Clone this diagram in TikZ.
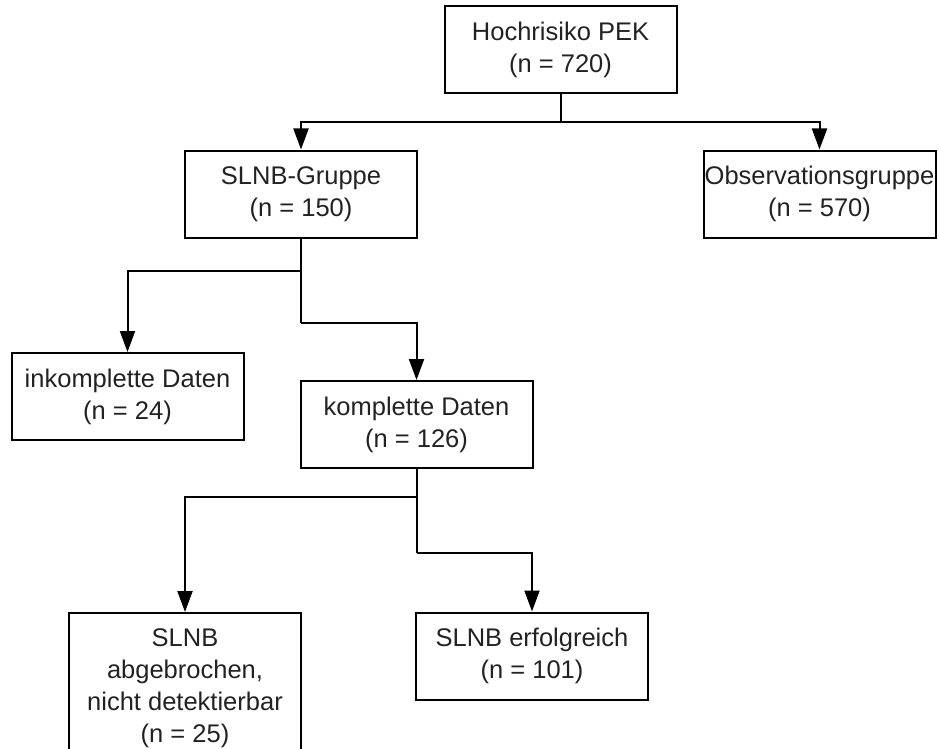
\documentclass[tikz,border=0pt]{standalone}
\usepackage{fontspec}
\setmainfont{Liberation Sans}
\usetikzlibrary{arrows.meta}
\definecolor{txt}{HTML}{222222}
\begin{document}
\begin{tikzpicture}[x=1pt,y=-1pt,
  box/.style={draw=black,line width=2pt,rectangle,inner sep=0pt,minimum width=232pt,minimum height=87pt,align=center,text=txt,font=\fontsize{25.5}{32}\selectfont},
  conn/.style={draw=black,line width=2pt},
  arr/.style={conn,-{Triangle[width=15pt,length=21pt]}}]
\useasboundingbox (0,0) rectangle (939,749);
\node[box] (A) at (560.5,49.5) {Hochrisiko PEK\\(n = 720)};
\node[box] (B) at (301,194) {SLNB-Gruppe\\(n = 150)};
\node[box] (C) at (819.5,194) {Observationsgruppe\\(n = 570)};
\node[box] (D) at (127.5,396.5) {inkomplette Daten\\(n = 24)};
\node[box] (E) at (416.5,424.5) {komplette Daten\\(n = 126)};
\node[box,minimum height=150pt] (F) at (185,688) {SLNB\\abgebrochen,\\nicht detektierbar\\(n = 25)};
\node[box] (G) at (532,656) {SLNB erfolgreich\\(n = 101)};
\coordinate (a1) at (560.5,122);
\coordinate (b1) at (301,271);
\coordinate (b2) at (301,323);
\coordinate (e1) at (416.5,497);
\coordinate (e2) at (416.5,553);
\draw[conn] (A.south) -- (a1);
\draw[arr] (a1) -| (B.north);
\draw[arr] (a1) -| (C.north);
\draw[conn] (B.south) -- (b2);
\draw[arr] (b1) -| (D.north);
\draw[arr] (b2) -| (E.north);
\draw[conn] (E.south) -- (e2);
\draw[arr] (e1) -| (F.north);
\draw[arr] (e2) -| (G.north);
\end{tikzpicture}
\end{document}
